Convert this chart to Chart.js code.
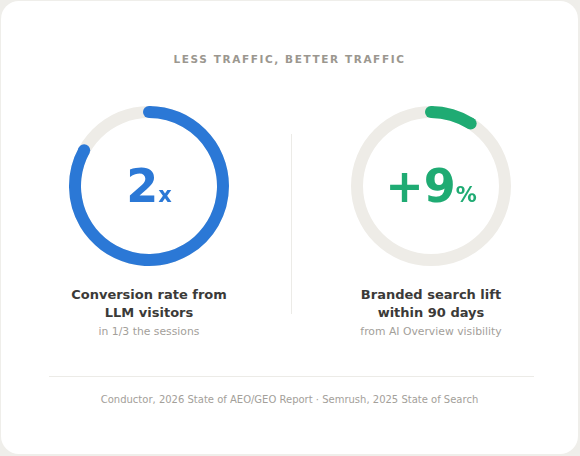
<!DOCTYPE html>
<html lang="en">
<head>
<meta charset="utf-8">
<title>Less traffic, better traffic</title>
<script src="https://cdn.jsdelivr.net/npm/chart.js@4.4.1/dist/chart.umd.min.js"></script>
<style>
    html, body { margin: 0; padding: 0; }
    body {
        width: 580px;
        height: 456px;
        background: #efeeea;
        font-family: "DejaVu Sans", sans-serif;
        position: relative;
        overflow: hidden;
    }
    .card {
        position: absolute;
        left: 1px; top: 1px;
        width: 577px; height: 453px;
        background: #ffffff;
        border-radius: 18px;
    }
    .titulo {
        position: absolute;
        left: 0; right: 0; top: 52px;
        text-align: center;
        font-size: 10.5px;
        font-weight: bold;
        letter-spacing: 1.6px;
        color: #9b978f;
    }
    .anel {
        position: absolute;
        width: 162px; height: 162px;
    }
    .centro {
        position: absolute;
        width: 200px;
        text-align: center;
        font-weight: bold;
        line-height: 1;
        white-space: nowrap;
    }
    .centro .grande { font-size: 46px; }
    .centro .pequeno { font-size: 21px; }
    .rotulo {
        position: absolute;
        width: 240px;
        text-align: center;
        font-size: 13px;
        font-weight: bold;
        line-height: 18px;
        color: #3b3a38;
    }
    .sub {
        position: absolute;
        width: 240px;
        text-align: center;
        font-size: 10.8px;
        color: #a3a09a;
    }
    .divisor {
        position: absolute;
        left: 290px; top: 133px;
        width: 1px; height: 180px;
        background: #ecebe7;
    }
    .linha {
        position: absolute;
        left: 48px; top: 375px;
        width: 485px; height: 1px;
        background: #ecebe7;
    }
    .fonte {
        position: absolute;
        left: 0; right: 0; top: 393px;
        text-align: center;
        font-size: 10px;
        color: #a3a09a;
    }
</style>
</head>
<body>
<div class="card">
    <div class="titulo">LESS TRAFFIC, BETTER TRAFFIC</div>

    <div class="anel" style="left:67px; top:104px;"><canvas id="anel-0"></canvas></div>
    <div class="anel" style="left:349px; top:104px;"><canvas id="anel-1"></canvas></div>

    <div class="centro" id="centro-0" style="left:48px; top:162px;"></div>
    <div class="centro" id="centro-1" style="left:330px; top:162px;"></div>

    <div class="divisor"></div>

    <div class="rotulo" id="rotulo-0" style="left:28px; top:285px;"></div>
    <div class="rotulo" id="rotulo-1" style="left:310px; top:285px;"></div>
    <div class="sub" id="sub-0" style="left:28px; top:324px;"></div>
    <div class="sub" id="sub-1" style="left:310px; top:324px;"></div>

    <div class="linha"></div>
    <div class="fonte">Conductor, 2026 State of AEO/GEO Report · Semrush, 2025 State of Search</div>
</div>

<script>
// Dados dos dois indicadores (percentual preenchido do anel, de 0 a 100)
const valoresAnel = [83, 9];
const maximoAnel = 100;
const valoresGrandes = ['2', '+9'];
const unidades = ['x', '%'];
const rotulos = [['Conversion rate from', 'LLM visitors'], ['Branded search lift', 'within 90 days']];
const subtitulos = ['in 1/3 the sessions', 'from AI Overview visibility'];
const cores = ['#2b78d6', '#1fab73'];
const corTrilho = '#eeece7';

// Plugin que desenha o trilho completo por baixo e as pontas arredondadas por cima
const trilhoPlugin = {
    id: 'trilho',
    beforeDatasetsDraw(chart) {
        const arco = chart.getDatasetMeta(0).data[0];
        if (!arco) return;
        const { x, y, innerRadius, outerRadius } = arco.getProps(['x', 'y', 'innerRadius', 'outerRadius'], true);
        const ctx = chart.ctx;
        ctx.save();
        ctx.beginPath();
        ctx.arc(x, y, outerRadius, 0, Math.PI * 2);
        ctx.arc(x, y, innerRadius, 0, Math.PI * 2, true);
        ctx.closePath();
        ctx.fillStyle = corTrilho;
        ctx.fill();
        ctx.restore();
    },
    afterDatasetsDraw(chart) {
        const arco = chart.getDatasetMeta(0).data[0];
        if (!arco) return;
        const p = arco.getProps(['x', 'y', 'startAngle', 'endAngle', 'innerRadius', 'outerRadius'], true);
        const meio = (p.innerRadius + p.outerRadius) / 2;
        const raioPonta = (p.outerRadius - p.innerRadius) / 2;
        const ctx = chart.ctx;
        ctx.save();
        ctx.fillStyle = arco.options.backgroundColor;
        [p.startAngle, p.endAngle].forEach(a => {
            ctx.beginPath();
            ctx.arc(p.x + meio * Math.cos(a), p.y + meio * Math.sin(a), raioPonta, 0, Math.PI * 2);
            ctx.fill();
        });
        ctx.restore();
    }
};

// Função para criar um anel de progresso
function criarAnel(indice) {
    const ctx = document.getElementById('anel-' + indice);
    const valor = valoresAnel[indice];
    return new Chart(ctx, {
        type: 'doughnut',
        data: {
            labels: ['valor', 'resto'],
            datasets: [{
                data: [valor, maximoAnel - valor],
                backgroundColor: [cores[indice], 'rgba(0,0,0,0)'],
                borderWidth: 0
            }]
        },
        options: {
            responsive: true,
            maintainAspectRatio: true,
            animation: false,
            cutout: '85%',
            rotation: 0,
            layout: { padding: 1 },
            plugins: {
                legend: { display: false },
                tooltip: { enabled: false }
            }
        },
        plugins: [trilhoPlugin]
    });
}

// Função para preencher os textos
function preencherTextos(indice) {
    const centro = document.getElementById('centro-' + indice);
    centro.style.color = cores[indice];
    centro.innerHTML = `<span class="grande">${valoresGrandes[indice]}</span><span class="pequeno">${unidades[indice]}</span>`;
    document.getElementById('rotulo-' + indice).innerHTML = rotulos[indice].join('<br>');
    document.getElementById('sub-' + indice).textContent = subtitulos[indice];
}

valoresAnel.forEach((v, i) => {
    criarAnel(i);
    preencherTextos(i);
});
</script>
</body>
</html>
